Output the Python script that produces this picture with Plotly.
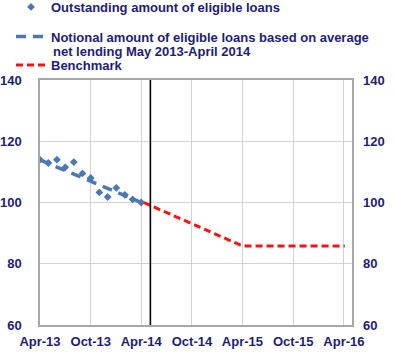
import plotly.graph_objects as go

# ---- data ----
months_out = ["2013-04-01", "2013-05-01", "2013-06-01", "2013-07-01", "2013-08-01",
              "2013-09-01", "2013-10-01", "2013-11-01", "2013-12-01", "2014-01-01",
              "2014-02-01", "2014-03-01", "2014-04-01"]
outstanding = [114.0, 112.9, 114.0, 111.5, 113.2, 109.5, 108.0, 103.3, 101.8, 104.8,
               102.5, 101.0, 100.0]

notional_dates = ["2013-04-01", "2014-04-01"]
notional = [113.9, 100.0]

bench_dates = ["2014-04-10", "2015-04-01", "2016-04-04"]
benchmark = [100.0, 85.8, 85.8]

cutoff_date = "2014-05-04"

tick_dates = ["2013-04-01", "2013-10-01", "2014-04-01", "2014-10-01",
              "2015-04-01", "2015-10-01", "2016-04-01"]
tick_labels = ["Apr-13", "Oct-13", "Apr-14", "Oct-14", "Apr-15", "Oct-15", "Apr-16"]
y_ticks = [60, 80, 100, 120, 140]

legend_names = ["Outstanding amount of eligible loans",
                "Notional amount of eligible loans based on average",
                "net lending May 2013-April 2014",
                "Benchmark"]

NAVY = "#1c1c80"
BLUE = "#4a78b4"
RED = "#ff1010"
FONT = dict(family="Liberation Sans, Arial, sans-serif", size=13, color=NAVY, weight="bold")

fig = go.Figure()

fig.add_trace(go.Scatter(
    x=months_out, y=outstanding, mode="markers",
    marker=dict(symbol="diamond", size=6, color=BLUE),
    name=legend_names[0], legend="legend"))

fig.add_trace(go.Scatter(
    x=notional_dates, y=notional, mode="lines",
    line=dict(color=BLUE, width=3.5, dash="10px,7px"),
    name=legend_names[1], legend="legend2"))

fig.add_trace(go.Scatter(
    x=bench_dates, y=benchmark, mode="lines",
    line=dict(color=RED, width=3, dash="7px,4px"),
    name=legend_names[3], legend="legend3"))

# invisible trace for the right axis
fig.add_trace(go.Scatter(x=bench_dates, y=benchmark, yaxis="y2", mode="lines",
                         line=dict(width=0), showlegend=False, hoverinfo="skip"))

fig.add_shape(type="line", xref="x", yref="paper", x0=cutoff_date, x1=cutoff_date,
              y0=0, y1=1, line=dict(color="black", width=1.6))

# second line of the notional legend entry
fig.add_annotation(text=legend_names[2], xref="paper", yref="paper",
                   x=(51 - 40) / 312, y=(325 - 51.5) / 245, xanchor="left", yanchor="middle",
                   showarrow=False, font=FONT)

grid = "#d2d2d2"
frame = "#a8a8a8"
LX = (11 - 40) / 312

fig.update_layout(
    width=396, height=353,
    margin=dict(l=40, r=44, t=80, b=28, autoexpand=False),
    paper_bgcolor="white", plot_bgcolor="white",
    font=FONT,
    showlegend=True,
    legend=dict(x=LX, y=(325 + 8) / 245, xanchor="left", yanchor="top", font=FONT,
                bgcolor="rgba(0,0,0,0)", valign="top"),
    legend2=dict(x=LX, y=(325 - 21.5) / 245, xanchor="left", yanchor="top", font=FONT,
                 bgcolor="rgba(0,0,0,0)", valign="top"),
    legend3=dict(x=LX, y=(325 - 50) / 245, xanchor="left", yanchor="top", font=FONT,
                 bgcolor="rgba(0,0,0,0)", valign="top"),
    xaxis=dict(type="date", range=["2013-04-01", "2016-04-30"],
               tickvals=tick_dates, ticktext=tick_labels,
               showgrid=True, gridcolor=grid, gridwidth=1,
               showline=True, linecolor=frame, linewidth=1.5, mirror=True,
               ticks="", tickfont=FONT, ticklabelstandoff=4, zeroline=False,
               automargin=False),
    yaxis=dict(range=[60, 140], tickvals=y_ticks,
               showgrid=True, gridcolor=grid, gridwidth=1,
               showline=True, linecolor=frame, linewidth=1.5, mirror=True,
               ticks="", tickfont=FONT, ticklabelstandoff=14, zeroline=False,
               automargin=False),
    yaxis2=dict(range=[60, 140], tickvals=y_ticks, overlaying="y", side="right",
                showgrid=False, showline=False, ticks="", tickfont=FONT,
                ticklabelstandoff=10, zeroline=False, automargin=False),
)

fig.write_html("out.html")
